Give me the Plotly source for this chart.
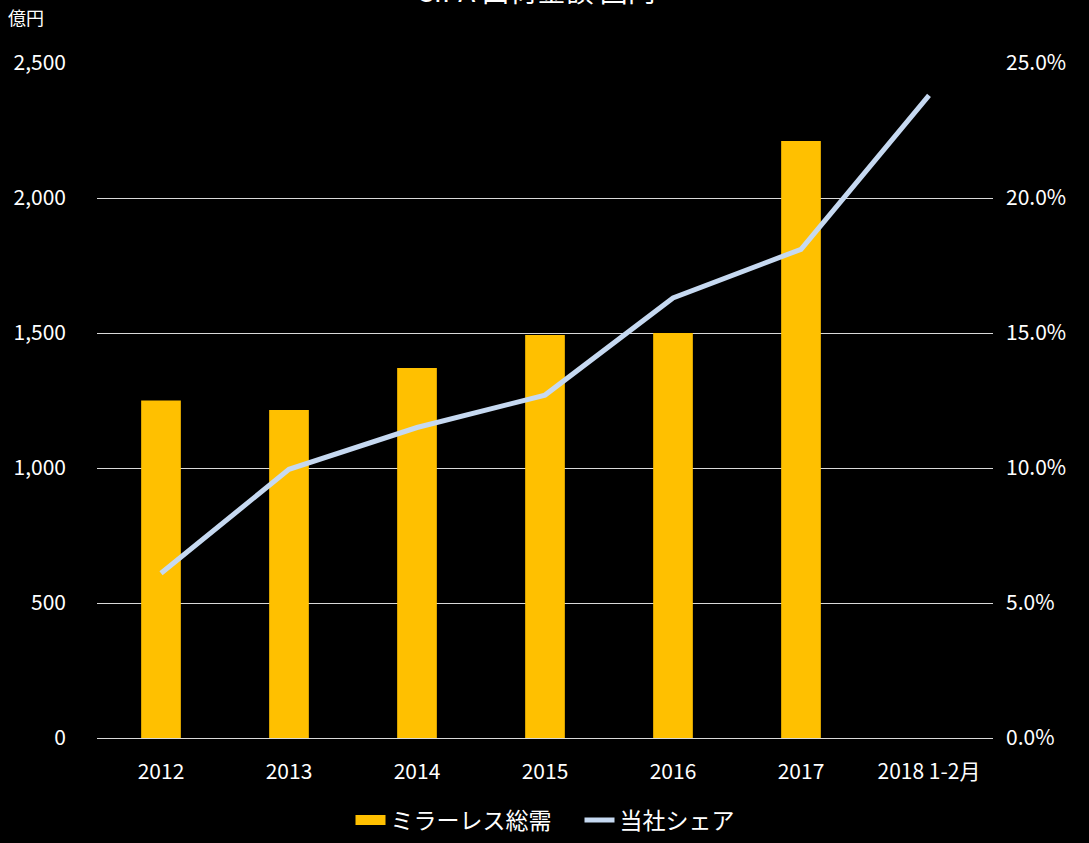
import plotly.graph_objects as go

years = ["2012", "2013", "2014", "2015", "2016", "2017", "2018 1-2月"]
market = [1250, 1215, 1370, 1493, 1500, 2211, None]  # 億円
share = [6.1, 9.95, 11.5, 12.7, 16.3, 18.1, 23.8]  # %

left_ticks = [0, 500, 1000, 1500, 2000, 2500]
right_ticks = [0, 5, 10, 15, 20, 25]
right_labels = ["0.0%", "5.0%", "10.0%", "15.0%", "20.0%", "25.0%"]

font_main = "Noto Sans CJK JP"
bar_color = "#FFC000"
line_color = "#C6D9F1"

fig = go.Figure()

fig.add_trace(
    go.Bar(
        x=years,
        y=market,
        name="ミラーレス総需",
        marker=dict(color=bar_color, line=dict(width=0)),
        showlegend=False,
        yaxis="y",
    )
)

# legend entry for the bars (wide rectangle swatch like the original)
fig.add_trace(
    go.Scatter(
        x=[None], y=[None],
        name="ミラーレス総需\u3000",
        mode="lines",
        line=dict(color=bar_color, width=16),
        yaxis="y",
    )
)

fig.add_trace(
    go.Scatter(
        x=years,
        y=share,
        name="当社シェア",
        mode="lines",
        line=dict(color=line_color, width=5),
        yaxis="y2",
    )
)

fig.add_annotation(
    text="CIPA 出荷金額 国内",
    xref="paper", yref="paper",
    x=0.49, y=1.076,
    xanchor="center", yanchor="bottom",
    showarrow=False,
    font=dict(size=28, color="white", family=font_main),
)

fig.add_annotation(
    text="億円",
    xref="paper", yref="paper",
    x=-0.102, y=1.046,
    xanchor="left", yanchor="bottom",
    showarrow=False,
    font=dict(size=18, color="white", family=font_main),
)

fig.update_layout(
    width=1089,
    height=843,
    paper_bgcolor="black",
    plot_bgcolor="black",
    margin=dict(l=97, r=96, t=63, b=105, pad=0, autoexpand=False),
    bargap=0.69,
    font=dict(family=font_main, color="white", size=21),
    showlegend=True,
    legend=dict(
        orientation="h",
        x=0.5, xanchor="center",
        y=-0.1215, yanchor="middle",
        font=dict(size=23, color="white"),
        bgcolor="rgba(0,0,0,0)",
        traceorder="normal",
    ),
    xaxis=dict(
        showgrid=False,
        showline=True,
        linecolor="#d9d9d9",
        linewidth=1,
        ticks="",
        tickfont=dict(size=21, color="white"),
        ticklabelstandoff=15,
    ),
    yaxis=dict(
        range=[0, 2500],
        tickvals=left_ticks,
        tickformat=",",
        showgrid=True,
        gridcolor="#d9d9d9",
        gridwidth=1,
        zeroline=False,
        ticks="",
        tickfont=dict(size=21, color="white"),
        ticklabelstandoff=30,
    ),
    yaxis2=dict(
        range=[0, 25],
        tickvals=right_ticks,
        ticktext=right_labels,
        overlaying="y",
        side="right",
        showgrid=False,
        zeroline=False,
        ticks="",
        tickfont=dict(size=21, color="white"),
        ticklabelstandoff=12,
    ),
)

fig.write_html(
    "out.html",
    config={"displayModeBar": False},
    post_script="document.body.style.margin='0';document.body.style.overflow='hidden';",
)
